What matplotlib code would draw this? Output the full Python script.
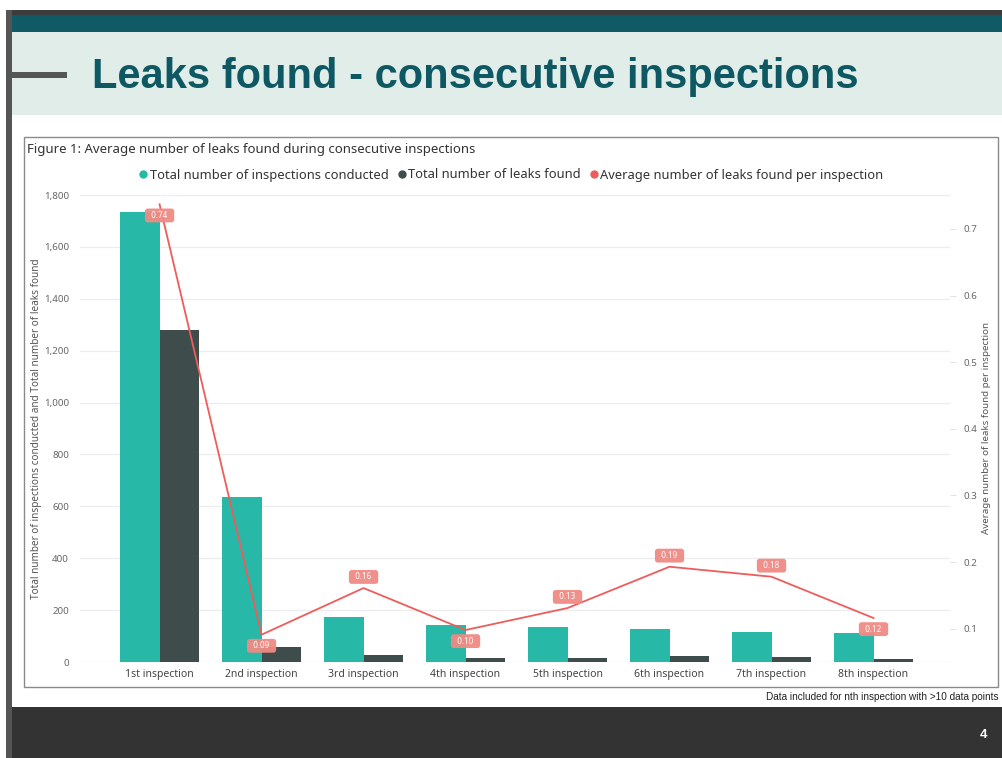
import matplotlib
matplotlib.use("Agg")
import matplotlib.pyplot as plt
from matplotlib.patches import Rectangle
from matplotlib.lines import Line2D
import numpy as np

# ---------------- data ----------------
categories = ["1st inspection", "2nd inspection", "3rd inspection", "4th inspection",
              "5th inspection", "6th inspection", "7th inspection", "8th inspection"]
inspections = [1735, 636, 172, 143, 135, 127, 117, 113]
leaks = [1280, 58, 26, 14, 17, 23, 20, 13]
avg_leaks = [0.737, 0.091, 0.161, 0.098, 0.131, 0.193, 0.178, 0.116]
label_above = [False, False, True, False, True, True, True, False]
left_ticks = [0, 200, 400, 600, 800, 1000, 1200, 1400, 1600, 1800]
right_ticks = [0.1, 0.2, 0.3, 0.4, 0.5, 0.6, 0.7]

W, H = 1002, 758
fig = plt.figure(figsize=(W / 100, H / 100), dpi=100)
fig.patch.set_facecolor("white")


def fx(x):
    return x / W


def fy(y):
    return 1 - y / H


def rect(x0, y0, x1, y1, color, **kw):
    fig.patches.append(Rectangle((fx(x0), fy(y1)), fx(x1) - fx(x0), fy(y0) - fy(y1),
                                 transform=fig.transFigure, facecolor=color,
                                 edgecolor=kw.pop("ec", "none"), lw=kw.pop("lw", 0),
                                 zorder=kw.pop("z", 0), **kw))


# slide frame
rect(6, 10, 1002, 15, "#3c3c3c")
rect(6, 10, 12, 758, "#555555")
rect(12, 15, 1002, 32, "#0f5a64")
rect(12, 32, 1002, 115, "#e0ede9")
rect(12, 707, 1002, 758, "#333333")
rect(12, 72.5, 67, 77.5, "#555555", z=1)
# chart box
rect(24, 137, 998, 687, "white", ec="#8a8a8a", lw=1.0, z=1)

fig.text(fx(92), fy(77), "Leaks found - consecutive inspections",
         family=["Liberation Sans Narrow", "Liberation Sans", "DejaVu Sans"],
         fontweight="bold", fontsize=30, color="#0e5863", va="center", ha="left")

fig.text(fx(27), fy(149), "Figure 1: Average number of leaks found during consecutive inspections",
         family=["Noto Sans", "DejaVu Sans"], fontsize=9.5, color="#333333",
         va="center", ha="left", zorder=3)

fig.text(fx(998), fy(697), "Data included for nth inspection with >10 data points",
         family=["Liberation Sans", "DejaVu Sans"], fontsize=7.2, color="#222222",
         va="center", ha="right")
fig.text(fx(983), fy(735), "4", family=["Liberation Sans", "DejaVu Sans"],
         fontweight="bold", fontsize=9.5, color="white", va="center", ha="center")

# ---------------- axes ----------------
ax_l, ax_r, ax_t, ax_b = 80, 950, 195, 662
ax = fig.add_axes([fx(ax_l), fy(ax_b), fx(ax_r) - fx(ax_l), fy(ax_t) - fy(ax_b)])
ax.set_zorder(3)
ax.patch.set_visible(False)

teal = "#28b8a8"
dark = "#3f4c4c"
red = "#ee5c5c"

x = np.arange(len(categories))
bw = 0.39
ax.bar(x - bw / 2, inspections, width=bw, color=teal, zorder=2)
ax.bar(x + bw / 2, leaks, width=bw, color=dark, zorder=2)
ax.set_ylim(0, 1800)
ax.set_xlim(-0.78, 7.75)
ax.set_yticks(left_ticks)
ax.set_yticklabels([f"{v:,}" for v in left_ticks])
ax.grid(axis="y", color="#ececec", lw=0.9, zorder=0)
ax.set_axisbelow(True)
ax.set_xticks(x)
ax.set_xticklabels(categories)
for s in ax.spines.values():
    s.set_visible(False)
ax.tick_params(axis="y", length=0, pad=8, labelsize=7, labelcolor="#666666")
ax.tick_params(axis="x", length=0, pad=5, labelsize=7.5, labelcolor="#444444")
for lab in ax.get_xticklabels() + ax.get_yticklabels():
    lab.set_family(["Noto Sans", "DejaVu Sans"])
ax.set_ylabel("Total number of inspections conducted and Total number of leaks found",
              family=["Noto Sans", "DejaVu Sans"], fontsize=7.2, color="#555555", labelpad=1)

ax2 = ax.twinx()
ax2.set_zorder(4)
ax2.patch.set_visible(False)
ax2.plot(x, avg_leaks, color=red, lw=1.3, zorder=3)
ax2.set_ylim(0.05, 0.751)
ax2.set_yticks(right_ticks)
ax2.set_yticklabels([f"{v:.1f}" for v in right_ticks])
for s in ax2.spines.values():
    s.set_visible(False)
ax2.tick_params(axis="y", length=4, width=0.6, color="#dddddd", pad=6,
                labelsize=7, labelcolor="#666666")
for lab in ax2.get_yticklabels():
    lab.set_family(["Noto Sans", "DejaVu Sans"])
ax2.set_ylabel("Average number of leaks found per inspection",
               family=["Noto Sans", "DejaVu Sans"], fontsize=7, color="#555555", labelpad=3)

for xi, v, above in zip(x, avg_leaks, label_above):
    ax2.annotate(f"  {v:.2f}  ", (xi, v), xytext=(0, 8 if above else -8),
                 textcoords="offset points", ha="center", va="center",
                 fontsize=5.8, color="white", family=["Noto Sans", "DejaVu Sans"],
                 bbox=dict(boxstyle="round,pad=0.3,rounding_size=0.35",
                           fc="#f08a84", ec="none", alpha=0.95), zorder=5)

handles = [Line2D([], [], ls="none", marker="o", ms=5, color=teal),
           Line2D([], [], ls="none", marker="o", ms=5, color=dark),
           Line2D([], [], ls="none", marker="o", ms=5, color=red)]
labels = ["Total number of inspections conducted", "Total number of leaks found",
          "Average number of leaks found per inspection"]
leg = fig.legend(handles, labels, loc="center", bbox_to_anchor=(fx(510), fy(175)),
                 ncol=3, frameon=False, handletextpad=0.0, columnspacing=0.5,
                 handlelength=1.0, prop={"family": ["Noto Sans", "DejaVu Sans"], "size": 9.3})
for t in leg.get_texts():
    t.set_color("#333333")
leg.set_zorder(5)

fig.savefig("out.png", dpi=100)
